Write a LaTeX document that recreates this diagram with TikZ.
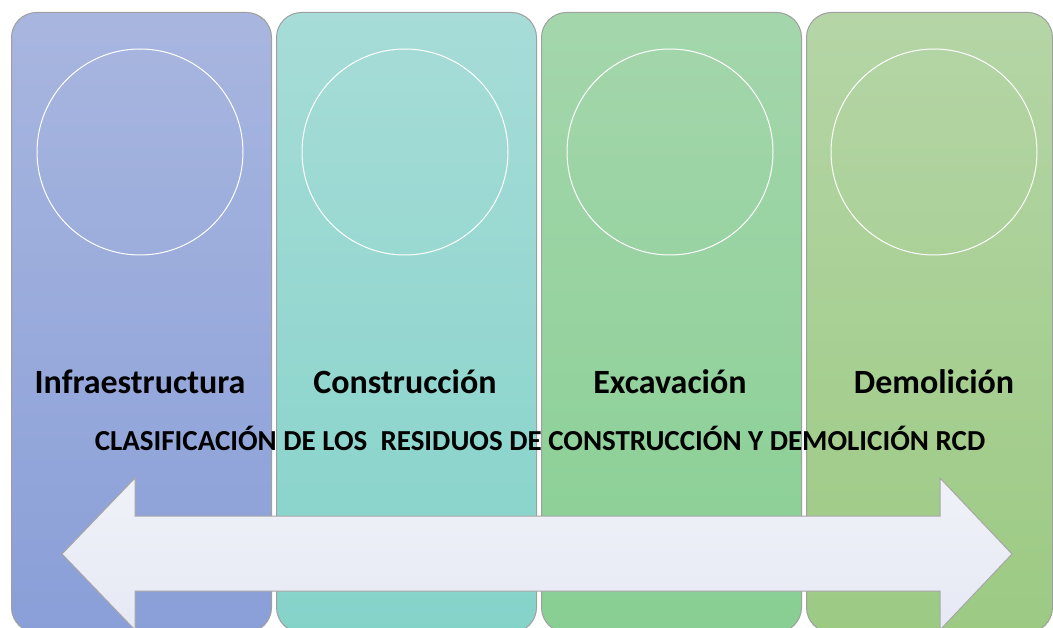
\documentclass[tikz,border=0pt]{standalone}
\usepackage{fontspec}
\setmainfont{Carlito}
\definecolor{infratop}{HTML}{A8B6DF}
\definecolor{infrabot}{HTML}{8A9FD8}
\definecolor{constrtop}{HTML}{A7DCD8}
\definecolor{constrbot}{HTML}{84D3C9}
\definecolor{excavtop}{HTML}{A4D6AC}
\definecolor{excavbot}{HTML}{88CF93}
\definecolor{demoltop}{HTML}{B5D5A6}
\definecolor{demolbot}{HTML}{9CCA83}
\definecolor{arrowfill}{HTML}{E6E9F4}
\begin{document}
\begin{tikzpicture}[x=1pt,y=-1pt,
    column/.style={rectangle, rounded corners=25pt, draw=gray!75, line width=1pt, minimum width=260pt, minimum height=620pt, anchor=north west, inner sep=0pt},
    ring/.style={circle, draw=white, line width=1pt, minimum size=206pt, inner sep=0pt},
    colname/.style={font=\bfseries\fontsize{34}{40}\selectfont, anchor=base, inner sep=0pt}]
    \useasboundingbox (0,0) rectangle (1053,628);
    \clip (0,0) rectangle (1053,628);

    \node (infra) [column, top color=infratop, bottom color=infrabot] at (11,12) {};
    \node (constr) [column, top color=constrtop, bottom color=constrbot] at (276,12) {};
    \node (excav) [column, top color=excavtop, bottom color=excavbot] at (541,12) {};
    \node (demol) [column, top color=demoltop, bottom color=demolbot, minimum width=246pt] at (806,12) {};

    \node (cinfra) [ring] at (140,152) {};
    \node (cconstr) [ring] at (405,152) {};
    \node (cexcav) [ring] at (670,152) {};
    \node (cdemol) [ring] at (934,152) {};

    \node (linfra) [colname] at (140,394) {Infraestructura};
    \node (lconstr) [colname] at (405,394) {Construcción};
    \node (lexcav) [colname] at (670,394) {Excavación};
    \node (ldemol) [colname] at (934,394) {Demolición};

    \node (title) [font=\bfseries\fontsize{29}{34}\selectfont, anchor=base, inner sep=0pt] at (540,450) {CLASIFICACIÓN DE LOS\ \ RESIDUOS DE CONSTRUCCIÓN Y DEMOLICIÓN RCD};

    % double arrow
    \draw[draw=gray!70, line width=1pt, top color=arrowfill!60!white, bottom color=arrowfill]
        (62,554) -- (135,478) -- (135,516) -- (940,516) -- (940,478) -- (1012,554)
        -- (940,630) -- (940,591) -- (135,591) -- (135,630) -- cycle;
\end{tikzpicture}
\end{document}
